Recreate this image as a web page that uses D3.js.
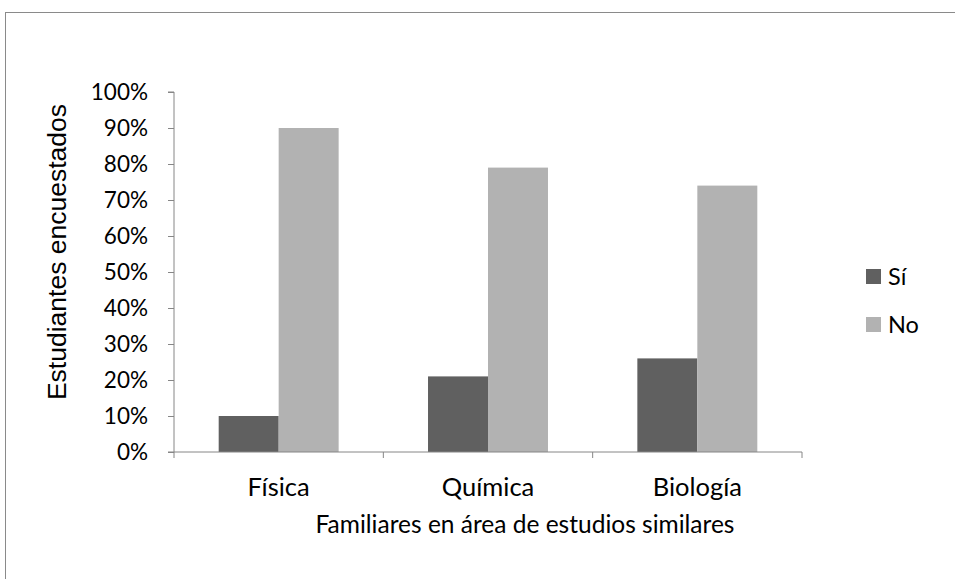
<!DOCTYPE html>
<html><head><meta charset="utf-8">
<script src="https://cdn.jsdelivr.net/npm/d3@7"></script>
<style>body{margin:0;background:#fff}svg{display:block}</style>
</head><body>
<svg id="c" width="955" height="579"></svg>
<script>
const categories = ["Física", "Química", "Biología"];
const seriesNames = ["Sí", "No"];
const valuesSi = [0.10, 0.21, 0.26];
const valuesNo = [0.90, 0.79, 0.74];
const yTicks = [0, 0.1, 0.2, 0.3, 0.4, 0.5, 0.6, 0.7, 0.8, 0.9, 1.0];
const colors = ["#606060", "#b2b2b2"];

(function () {
const svg = d3.select("#c");
svg.append("rect").attr("x", 5.5).attr("y", 12.5).attr("width", 960).attr("height", 580)
  .attr("fill", "#fff").attr("stroke", "#8a8a8a").attr("stroke-width", 1);

const pLeft = 174, pRight = 802, pTop = 92, pBottom = 452;
const x0 = d3.scaleBand().domain(categories).range([pLeft, pRight]).paddingInner(0).paddingOuter(0);
const x1 = d3.scaleBand().domain(seriesNames).range([0, x0.bandwidth()]).paddingInner(0).paddingOuter(0.745);
const y = d3.scaleLinear().domain([0, 1]).range([pBottom, pTop]);
const font = "Lato, 'Open Sans', sans-serif";

const series = [valuesSi, valuesNo];
categories.forEach((c, i) => {
  seriesNames.forEach((s, j) => {
    svg.append("rect")
      .attr("x", x0(c) + x1(s)).attr("y", y(series[j][i]))
      .attr("width", x1.bandwidth()).attr("height", pBottom - y(series[j][i]))
      .attr("fill", colors[j]);
  });
});

const yAxis = svg.append("g").attr("transform", `translate(${pLeft},0)`)
  .call(d3.axisLeft(y).tickValues(yTicks).tickFormat(d3.format(".0%")).tickSize(6).tickPadding(20));
yAxis.select(".domain").attr("stroke", "#868686").attr("d", `M-6,${pTop}H0V${pBottom}H-6`);
yAxis.selectAll(".tick line").attr("stroke", "#868686");
yAxis.selectAll(".tick text").attr("fill", "#000").style("font-family", font).style("font-size", "22.5px");

const xAxis = svg.append("g").attr("transform", `translate(0,${pBottom})`)
  .call(d3.axisBottom(x0).tickSize(0).tickFormat(""));
xAxis.select(".domain").attr("stroke", "#868686").attr("d", `M${pLeft},0H${pRight}`);
const bounds = [pLeft, ...categories.map(c => x0(c) + x0.bandwidth())];
xAxis.selectAll(".bt").data(bounds).enter().append("line").attr("class", "bt")
  .attr("x1", d => d).attr("x2", d => d).attr("y1", 0).attr("y2", 6).attr("stroke", "#868686");
xAxis.selectAll(".cl").data(categories).enter().append("text").attr("class", "cl")
  .attr("x", d => x0(d) + x0.bandwidth() / 2).attr("y", 44).attr("text-anchor", "middle")
  .style("font-family", font).style("font-size", "25.5px").attr("fill", "#000").text(d => d);

svg.append("text").attr("x", 525).attr("y", 533).attr("text-anchor", "middle")
  .style("font-family", font).style("font-size", "24.5px").text("Familiares en área de estudios similares");

svg.append("text").attr("transform", "translate(66,252) rotate(-90)").attr("text-anchor", "middle")
  .style("font-family", "'Liberation Sans', Arial, sans-serif").style("font-size", "26.5px")
  .text("Estudiantes encuestados");

const leg = svg.append("g");
seriesNames.forEach((s, j) => {
  const ly = 269 + j * 48;
  leg.append("rect").attr("x", 866).attr("y", ly).attr("width", 15).attr("height", 15).attr("fill", colors[j]);
  leg.append("text").attr("x", 888).attr("y", ly + 16).style("font-family", font).style("font-size", "23.5px").text(s);
});
})();
</script>
</body></html>
